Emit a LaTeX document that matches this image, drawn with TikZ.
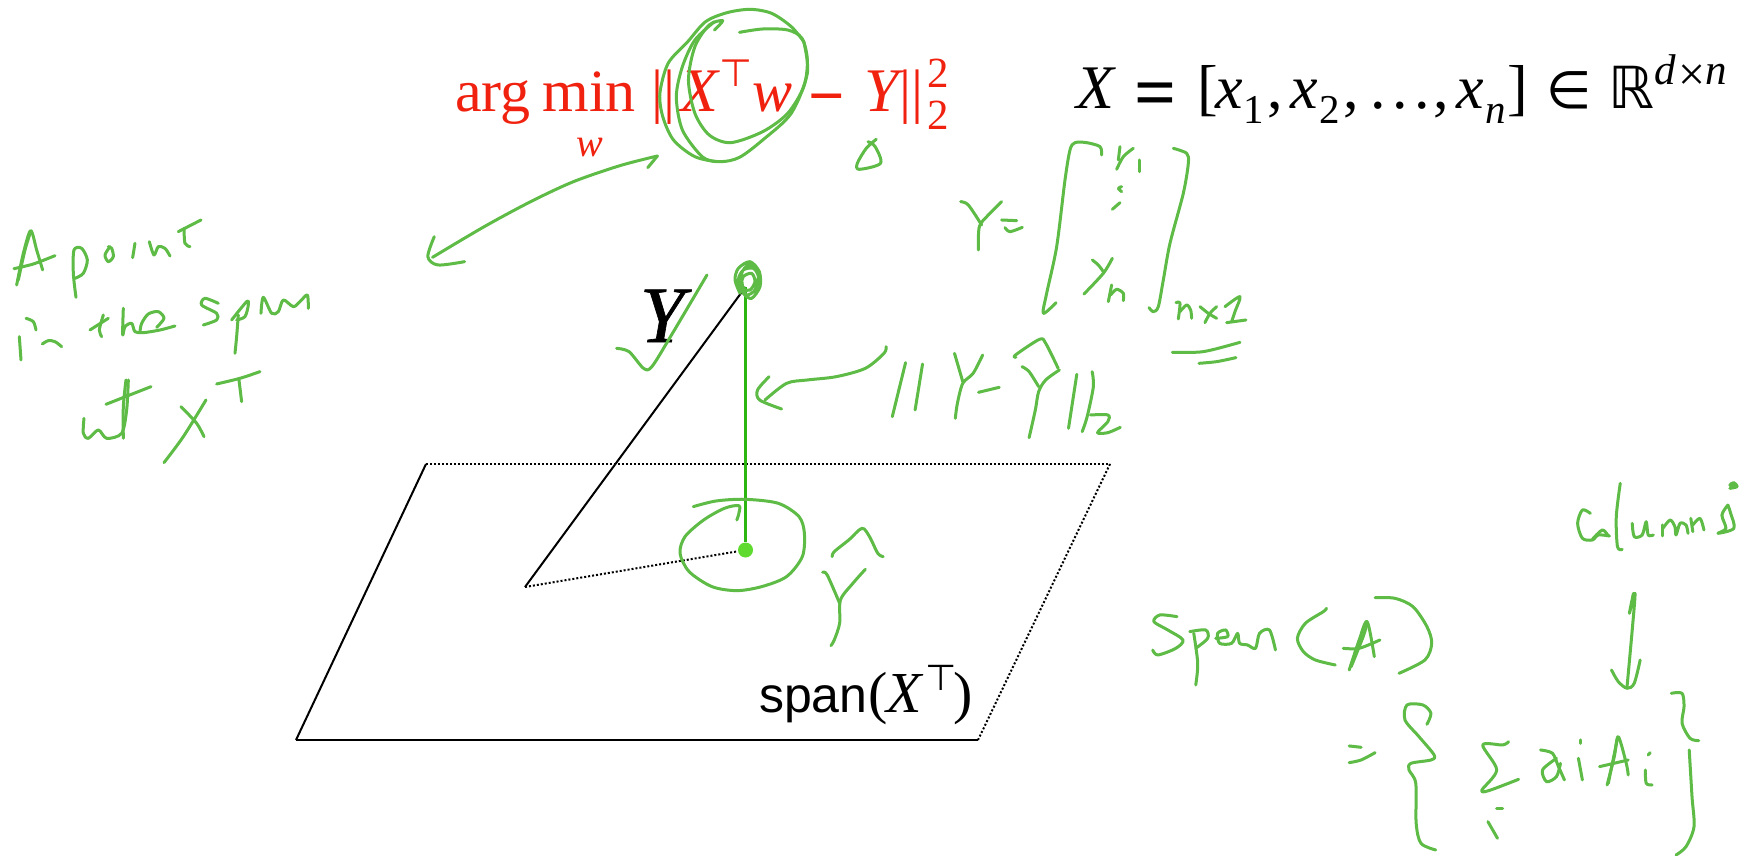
\documentclass[tikz,border=0pt]{standalone}
\usepackage{fontspec}
\setmainfont{Liberation Serif}
\newfontfamily\hvfont{Liberation Sans}
\newfontfamily\dvfont{DejaVu Sans}
\newfontfamily\yfont[ItalicFeatures={FakeBold=0.8}]{Liberation Serif}
\definecolor{inkgreen}{HTML}{5DBB46}
\definecolor{linegreen}{HTML}{2DB512}
\definecolor{dotgreen}{HTML}{5EDB2E}
\definecolor{redtxt}{HTML}{F0210F}
\newcommand\fsz[1]{\fontsize{#1}{#1}\selectfont}
\newcommand\st[1]{\draw[hand] plot[smooth] coordinates {#1};}
\tikzset{
  hand/.style={draw=inkgreen,line width=3pt,line cap=round,line join=round},
  lab/.style={inner sep=0pt,outer sep=0pt,anchor=base west},
  redlab/.style={lab,text=redtxt},
  solidedge/.style={draw=black,line width=2pt},
  dotedge/.style={draw=black,line width=2pt,dash pattern=on 2pt off 2pt},
}
\begin{document}
\begin{tikzpicture}[x=1pt,y=-1pt]
\useasboundingbox[fill=white] (0,0) rectangle (1745,856);
% plane
\coordinate (tl) at (426,464);
\coordinate (tr) at (1110,464);
\coordinate (bl) at (296,740);
\coordinate (br) at (978,740);
\coordinate (apex) at (745.5,287);
\coordinate (low) at (525,587);
\node[circle,fill=dotgreen,inner sep=0pt,minimum size=15pt] (foot) at (745.5,550) {};
\draw[dotedge] (tl) -- (tr);
\draw[dotedge] (tr) -- (br);
\draw[solidedge] (bl) -- (tl);
\draw[solidedge] (bl) -- (br);
\draw[solidedge] (low) -- (apex);
\draw[dotedge] (low) -- (foot);
\draw[draw=linegreen,line width=2.8pt] (apex) -- (foot);
% red formula
\node[redlab,font=\fsz{60}] (argmin) at (455,112) {arg\hspace{.2em}min};
\node[redlab,font=\fsz{40}\itshape] (wsub) at (576,157) {w};
\node[redlab,font=\fsz{60}] (barsl) at (651,112) {||};
\node[redlab,font=\fsz{62}\itshape] (rx) at (680,112) {X};
\node[redlab,font=\fsz{38}\dvfont] (rtop) at (719,87) {⊤};
\node[redlab,font=\fsz{60}\itshape] (rw) at (752,112) {w};
\node[redlab,font=\fsz{64}\bfseries] (rminus) at (808,118) {−};
\node[redlab,font=\fsz{62}\itshape] (ry) at (864,112) {Y};
\node[redlab,font=\fsz{60}] (barsr) at (899,112) {||};
\node[redlab,font=\fsz{43}] (rsup) at (927,88) {2};
\node[redlab,font=\fsz{43}] (rsubb) at (927,130) {2};
% black formula
\node[lab,font=\fsz{62}\itshape] (bx) at (1076,109) {X};
\node[lab,font=\fsz{74}\bfseries] (beq) at (1134,118) {=};
\node[lab,font=\fsz{62}] (blb) at (1197,109) {[};
\node[lab,font=\fsz{62}\itshape] (bx1) at (1215,109) {x};
\node[lab,font=\fsz{41}] (bs1) at (1243,124) {1};
\node[lab,font=\fsz{62}] (bc1) at (1267,109) {,};
\node[lab,font=\fsz{62}\itshape] (bx2) at (1290,109) {x};
\node[lab,font=\fsz{41}] (bs2) at (1319,124) {2};
\node[lab,font=\fsz{62}] (bc2) at (1343,109) {,};
\node[lab,font=\fsz{62}] (bdots) at (1370,109) {\hspace{0pt}.\hspace{7pt}.\hspace{7pt}.};
\node[lab,font=\fsz{62}] (bc3) at (1433,109) {,};
\node[lab,font=\fsz{62}\itshape] (bxn) at (1456,109) {x};
\node[lab,font=\fsz{41}\itshape] (bsn) at (1485,124) {n};
\node[lab,font=\fsz{62}] (brb) at (1507,109) {]};
\node[lab,font=\fsz{52}\dvfont] (bin) at (1546,109) {∈};
\node[lab,font=\fsz{58}\dvfont] (bbr) at (1608,109) {ℝ};
\node[lab,font=\fsz{43}\itshape] (bd) at (1654,85) {d};
\node[lab,font=\fsz{48}] (btimes) at (1678,91) {×};
\node[lab,font=\fsz{43}\itshape] (bn) at (1705,85) {n};
% labels
\node[lab,font=\fsz{80}\yfont\itshape] (bigy) at (640,342) {Y};
\node[lab,font=\fsz{50}\hvfont] (span) at (759,712) {span};
\node[lab,font=\fsz{58}] (lp) at (868,712) {(};
\node[lab,font=\fsz{58}\itshape] (sx) at (886,712) {X};
\node[lab,font=\fsz{36}\dvfont] (stop) at (925,690) {⊤};
\node[lab,font=\fsz{58}] (rp) at (953,712) {)};
% --- ink: circle, arrow near formula
\begin{scope}[shift={(420,0)},xscale=0.357,yscale=0.3333]
\st{(895,97) (960,87) (1030,90) (1070,115) (1085,180) (1075,260) (1030,340) (960,395) (870,428) (810,405) (770,340) (752,240) (770,140) (810,75) (848,62) (825,90)}
\st{(1075,125) (1085,220) (1040,340) (960,420) (895,472) (840,485) (770,470) (710,420) (680,350) (672,280) (695,190) (750,125) (800,65) (860,38) (925,28) (985,40) (1040,80) (1075,125)}
\st{(825,65) (770,120) (735,200) (718,290) (735,390) (790,470) (830,485)}
\st{(665,468) (560,497) (430,545) (310,605) (180,680) (35,772)}
\st{(665,468) (638,503)}
\st{(40,710) (22,770) (50,795) (125,785)}
\st{(1278,418) (1250,445) (1225,490) (1230,508) (1290,490) (1275,440) (1255,425)}
\end{scope}
% --- ink: A point in the span of X^T
\begin{scope}[shift={(0,190)},xscale=0.3333,yscale=0.3333]
\st{(50,285) (70,190) (92,122) (110,180) (128,240)}
\st{(55,270) (75,180) (92,125)}
\st{(42,236) (100,222) (165,197)}
\st{(228,322) (220,250) (222,180) (245,175) (262,210) (250,250) (225,265)}
\st{(330,170) (315,195) (325,215) (340,200) (335,175) (325,170)}
\st{(405,160) (398,203)}
\st{(448,155) (462,195) (475,170) (495,175) (510,198)}
\st{(603,90) (535,125)}
\st{(552,115) (555,160) (570,170)}
\st{(78,385) (100,395) (108,420)}
\st{(58,440) (63,510)}
\st{(127,462) (145,452) (165,455) (185,470)}
\st{(270,420) (325,385)}
\st{(310,375) (298,420) (305,440)}
\st{(370,355) (368,435) (375,410) (395,400) (405,425) (430,428) (480,420) (525,408)}
\st{(470,412) (492,385) (475,365) (445,372) (425,400) (420,425)}
\st{(655,340) (615,325) (605,345) (650,370) (650,390) (610,405)}
\st{(695,390) (740,335) (745,345) (735,380) (710,390)}
\st{(715,375) (710,440) (705,490)}
\st{(783,370) (790,322) (815,370) (835,365) (850,330) (880,350) (900,335) (922,315) (925,355)}
\st{(252,685) (250,730) (265,745) (295,720) (320,745) (365,730) (380,660) (385,570)}
\st{(378,570) (370,650) (370,745)}
\st{(318,643) (453,590)}
\st{(492,818) (550,740) (618,630)}
\st{(543,650) (590,700) (612,740)}
\st{(650,582) (720,565) (780,545)}
\st{(717,570) (725,635)}
\end{scope}
% --- ink: centre
\begin{scope}[shift={(700,240)},xscale=0.3333,yscale=0.3333]
\st{(120,160) (105,120) (115,85) (150,65) (178,95) (180,140) (155,175) (130,160) (115,120) (130,90) (160,85) (175,110) (165,150) (140,165) (125,140) (130,110) (155,100) (165,125) (150,150) (130,145) (125,100) (145,75) (165,85)}
\end{scope}
\begin{scope}[shift={(600,240)},xscale=0.4146,yscale=0.3333]
\st{(40,325) (70,335) (105,385) (125,380) (170,290) (258,105)}
\st{(690,320) (685,340) (640,385) (570,410) (500,420) (450,430) (398,480)}
\st{(408,410) (380,450) (385,480) (438,507)}
\st{(737,368) (705,530)}
\st{(778,372) (760,510)}
\st{(855,340) (875,425)}
\st{(923,345) (900,400) (875,430) (862,490) (857,535)}
\st{(913,457) (963,442)}
\st{(1003,352) (1002,345) (1060,298) (1075,310) (1105,385)}
\st{(1018,380) (1035,395) (1058,440)}
\st{(1108,390) (1075,420) (1058,455) (1050,510) (1035,593)}
\st{(1150,403) (1130,565)}
\st{(1187,395) (1190,440) (1175,530) (1163,575)}
\st{(1183,525) (1225,525) (1225,545) (1200,578) (1225,578) (1255,562)}
\st{(225,800) (280,783) (350,778) (430,790) (480,830) (493,880) (488,950) (450,1010) (390,1040) (330,1052) (270,1040) (215,995) (193,940) (205,890) (250,840) (300,805) (335,797) (335,820) (330,840)}
\st{(560,950) (565,935) (600,900) (632,865) (650,890) (670,940) (683,950)}
\st{(537,997) (548,1005) (578,1090)}
\st{(640,988) (610,1030) (580,1080) (578,1150) (565,1200) (557,1217)}
\end{scope}
% --- ink: Y vector
\begin{scope}[shift={(950,130)},xscale=0.3333,yscale=0.3333]
\st{(32,215) (55,225) (95,285)}
\st{(155,215) (115,255) (88,290) (85,360)}
\st{(155,270) (200,272)}
\st{(165,293) (180,305) (217,292)}
\st{(455,75) (450,50) (410,38) (375,38) (360,60) (345,150) (320,350) (290,490) (280,550) (318,518)}
\st{(510,50) (505,90)}
\st{(550,55) (520,80) (500,118)}
\st{(570,90) (570,125)}
\st{(515,185) (505,175) (515,170)}
\st{(510,218) (487,238)}
\st{(427,390) (445,405) (460,425)}
\st{(487,385) (460,430) (402,492)}
\st{(485,465) (475,515)}
\st{(482,495) (500,478) (520,490) (520,512)}
\st{(670,55) (710,70) (715,100) (700,190) (660,340) (640,450) (625,530) (610,545) (597,533)}
\st{(678,518) (690,520) (685,567)}
\st{(690,545) (710,525) (722,540) (725,565)}
\st{(750,530) (775,550) (800,565)}
\st{(800,530) (780,550) (765,578)}
\st{(825,530) (870,500) (855,545) (845,575)}
\st{(830,578) (888,570)}
\st{(667,667) (760,665) (870,637)}
\st{(747,700) (800,695) (858,683)}
\end{scope}
% --- ink: span(A)
\begin{scope}[shift={(1120,430)},xscale=0.3986,yscale=0.3333]
\st{(1180,250) (1160,240) (1148,280) (1160,325) (1185,330) (1200,315) (1228,318)}
\st{(1185,328) (1210,300) (1225,318)}
\st{(1255,160) (1245,260) (1248,350) (1260,358)}
\st{(1285,280) (1290,320) (1310,315) (1320,275) (1325,315) (1338,315)}
\st{(1360,285) (1360,318)}
\st{(1362,295) (1380,270) (1392,290) (1395,315) (1405,280) (1420,285) (1425,310)}
\st{(1432,265) (1437,305)}
\st{(1437,285) (1455,265) (1465,300)}
\st{(1525,225) (1510,255) (1520,295) (1500,310) (1540,295) (1532,250) (1525,225)}
\st{(1530,175) (1548,170) (1540,158) (1530,165) (1540,168)}
\st{(1288,490) (1278,550) (1292,490) (1285,600) (1272,770)}
\st{(1233,720) (1250,755) (1272,775) (1290,760) (1305,690)}
\st{(143,560) (100,555) (85,575) (120,600) (158,630) (140,655) (95,675) (82,660)}
\st{(185,610) (195,700) (190,765)}
\st{(175,605) (215,600) (220,625) (190,655)}
\st{(240,625) (270,620) (265,600) (245,610) (250,640) (280,640) (295,610) (300,640) (320,645) (340,655) (350,610) (375,600) (390,660)}
\st{(518,535) (510,545) (465,580) (445,625) (460,665) (490,690) (540,705)}
\st{(575,720) (600,630) (620,575) (638,680)}
\st{(580,710) (610,620) (620,580)}
\st{(560,655) (600,655) (652,630)}
\st{(640,503) (690,505) (735,530) (770,590) (782,640) (765,690) (700,730)}
\st{(575,948) (605,952)}
\st{(575,998) (605,990) (640,968)}
\st{(770,883) (780,850) (760,825) (720,825) (715,870) (750,920) (788,975) (780,990) (730,1000) (725,1020) (742,1060) (743,1180) (755,1240) (792,1260)}
\st{(975,935) (960,945) (910,945) (945,1020) (908,1080) (925,1082) (1000,1048)}
\st{(1055,960) (1085,970) (1100,1010) (1115,1050)}
\st{(1095,985) (1060,1020) (1070,1055) (1095,1040) (1105,1000)}
\st{(1155,930) (1155,940)}
\st{(1150,985) (1160,1050)}
\st{(1222,1065) (1240,980) (1250,920) (1270,1000) (1275,1035)}
\st{(1225,1060) (1248,925)}
\st{(1203,1010) (1275,990)}
\st{(1330,968) (1325,975)}
\st{(1318,1020) (1320,1060) (1335,1065)}
\st{(1383,790) (1410,790) (1415,830) (1410,880) (1430,925) (1452,932)}
\st{(1428,960) (1435,1100) (1440,1190) (1420,1250) (1395,1275)}
\st{(945,1135) (960,1135)}
\st{(923,1175) (947,1225)}
\end{scope}
\end{tikzpicture}
\end{document}
